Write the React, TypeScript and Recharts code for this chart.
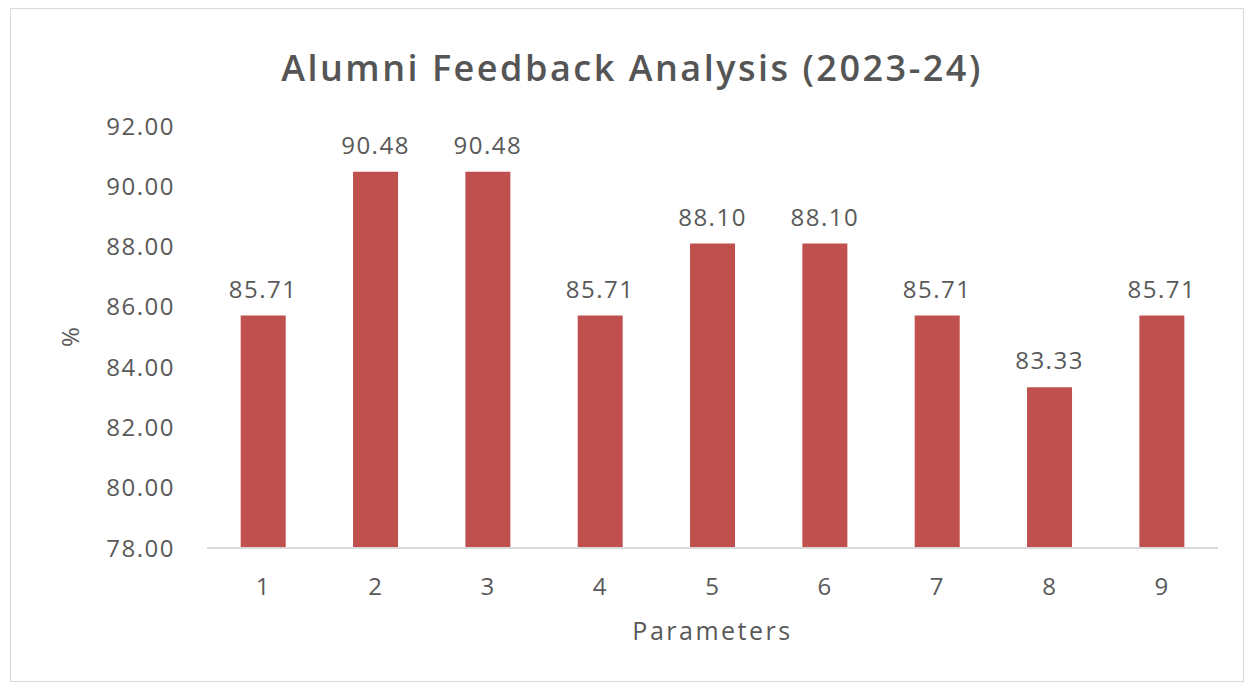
import React from 'react';
import { BarChart, Bar, XAxis, YAxis, LabelList, Label } from 'recharts';

const categories = ['1', '2', '3', '4', '5', '6', '7', '8', '9'];
const percentValues = [85.71, 90.48, 90.48, 85.71, 88.10, 88.10, 85.71, 83.33, 85.71];
const yTicks = [78, 80, 82, 84, 86, 88, 90, 92];

const data = categories.map((c, i) => ({ name: c, value: percentValues[i] }));

const FONT = '"Open Sans", sans-serif';
const TEXT = '#595959';

export default function App() {
  return (
    <div style={{ position: 'absolute', left: 0, top: 0, width: 1252, height: 687, background: '#fff', fontFamily: FONT }}>
      <div style={{ position: 'absolute', left: 10, top: 8, width: 1234, height: 674, border: '1px solid #d9d9d9', boxSizing: 'border-box' }} />
      <div style={{ position: 'absolute', left: 0, top: 43, width: 1264, textAlign: 'center', fontSize: 36, fontWeight: 600, color: '#555555', lineHeight: '50px', letterSpacing: 2.5 }}>
        Alumni Feedback Analysis (2023-24)
      </div>
      <div style={{ position: 'absolute', left: 0, top: 0 }}>
        <BarChart width={1252} height={687} data={data} margin={{ top: 126, right: 34, bottom: 39, left: 60 }} barCategoryGap="30%">
          <XAxis
            dataKey="name"
            height={100}
            tickLine={false}
            tickSize={0}
            tickMargin={30}
            axisLine={{ stroke: '#d9d9d9', strokeWidth: 2 }}
            tick={{ fill: TEXT, fontSize: 24, fontFamily: FONT, letterSpacing: 1 }}
          >
            <Label value="Parameters" position="insideBottom" offset={8} style={{ fill: TEXT, fontSize: 25, fontFamily: FONT, letterSpacing: 2.5 }} />
          </XAxis>
          <YAxis
            width={147}
            domain={[78, 92]}
            ticks={yTicks}
            interval={0}
            allowDataOverflow
            axisLine={false}
            tickLine={false}
            tickSize={0}
            tickMargin={32}
            tickFormatter={(v: number) => v.toFixed(2)}
            tick={{ fill: TEXT, fontSize: 24, fontFamily: FONT, letterSpacing: 1.5 }}
          >
            <Label value="%" angle={-90} position="insideLeft" offset={10} style={{ fill: TEXT, fontSize: 24, fontFamily: FONT, textAnchor: 'middle' }} />
          </YAxis>
          <Bar dataKey="value" fill="#C0504D" isAnimationActive={false}>
            <LabelList
              dataKey="value"
              position="top"
              offset={18}
              formatter={(v: number) => Number(v).toFixed(2)}
              style={{ fill: TEXT, fontSize: 24, fontFamily: FONT, letterSpacing: 1.5 }}
            />
          </Bar>
        </BarChart>
      </div>
    </div>
  );
}
